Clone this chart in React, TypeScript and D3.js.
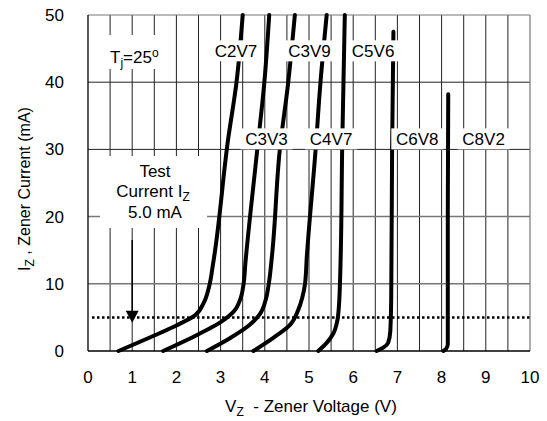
import * as d3 from "d3";

const vTicks = [0, 1, 2, 3, 4, 5, 6, 7, 8, 9, 10];
const iTicks = [0, 10, 20, 30, 40, 50];
const vGrid = [0.5, 1, 1.5, 2, 2.5, 3, 3.5, 4, 4.5, 5, 5.5, 6, 6.5, 7, 7.5, 8, 8.5, 9, 9.5];
const testCurrent = 5;

// [Vz, Iz] pairs
const c2v7: [number, number][] = [[0.69, 0], [1.5, 2.3], [2.0, 3.8], [2.42, 5.3], [2.62, 7.2], [2.74, 9.6], [2.83, 13], [3.17, 31.5], [3.36, 40], [3.5, 50]];
const c3v3: [number, number][] = [[1.7, 0], [2.5, 2.5], [3.0, 4.3], [3.3, 5.9], [3.45, 7.8], [3.52, 10], [3.56, 13], [3.83, 30], [3.99, 40], [4.1, 50]];
const c3v9: [number, number][] = [[2.69, 0], [3.21, 1.9], [3.66, 3.9], [3.9, 5.6], [4.02, 7.6], [4.09, 10], [4.16, 14], [4.34, 30], [4.53, 40], [4.68, 50]];
const c4v7: [number, number][] = [[3.74, 0], [4.2, 2.0], [4.57, 3.9], [4.75, 6], [4.85, 8], [4.91, 10], [4.95, 14], [5.15, 30], [5.26, 40], [5.4, 50]];
const c5v6: [number, number][] = [[5.21, 0], [5.4, 1.2], [5.55, 2.6], [5.64, 4.5], [5.68, 7], [5.7, 10], [5.72, 15], [5.75, 30], [5.81, 50]];
const c6v8: [number, number][] = [[6.53, 0], [6.68, 0.5], [6.79, 1.2], [6.84, 3], [6.86, 8], [6.88, 30], [6.91, 47.5]];
const c8v2: [number, number][] = [[8.04, 0], [8.1, 0.3], [8.14, 1], [8.14, 20], [8.15, 38.2]];

const curves = [c2v7, c3v3, c3v9, c4v7, c5v6, c6v8, c8v2];

// label text with its centre (Vz) and baseline (Iz)
const curveLabels: { text: string; v: number; i: number }[] = [
  { text: "C2V7", v: 3.35, i: 43.7 },
  { text: "C3V9", v: 5.01, i: 43.7 },
  { text: "C5V6", v: 6.45, i: 43.7 },
  { text: "C3V3", v: 4.04, i: 30.6 },
  { text: "C4V7", v: 5.5, i: 30.6 },
  { text: "C6V8", v: 7.45, i: 30.6 },
  { text: "C8V2", v: 8.95, i: 30.6 },
];

const W = 547;
const H = 421;
const margin = { left: 88, right: 17, top: 15, bottom: 70 };
const FONT = "'Liberation Sans', Arial, sans-serif";
const FS = 17;

export default function App() {
  const x = d3.scaleLinear().domain([0, 10]).range([margin.left, W - margin.right]);
  const y = d3.scaleLinear().domain([0, 50]).range([H - margin.bottom, margin.top]);
  const line = d3
    .line<[number, number]>()
    .x((d) => x(d[0]))
    .y((d) => y(d[1]))
    .curve(d3.curveMonotoneY);

  const x0 = x(0);
  const x1 = x(10);
  const y0 = y(0);
  const y1 = y(50);

  const arrowX = x(1);
  const arrowTop = y(16.5);
  const arrowTip = y(4.2);

  return (
    <svg
      width={W}
      height={H}
      style={{ position: "absolute", left: 0, top: 0, background: "#fff" }}
      fontFamily={FONT}
      fontSize={FS}
    >
      {/* grid */}
      {vGrid.map((v) => (
        <line key={"gv" + v} x1={x(v)} x2={x(v)} y1={y0} y2={y1} stroke="#222" strokeWidth={1} />
      ))}
      {iTicks.slice(1, 5).map((i) => (
        <line
          key={"gh" + i}
          x1={x0}
          x2={x1}
          y1={y(i)}
          y2={y(i)}
          stroke={i < 30 ? "#777" : "#222"}
          strokeWidth={i < 30 ? 1.5 : 1}
        />
      ))}
      <line x1={x0} x2={x1} y1={y1} y2={y1} stroke="#777" strokeWidth={1.2} />
      <line x1={x1} x2={x1} y1={y0} y2={y1} stroke="#777" strokeWidth={1.2} />
      <line x1={x0} x2={x0} y1={y0} y2={y1} stroke="#000" strokeWidth={1.3} />
      <line x1={x0} x2={x1} y1={y0} y2={y0} stroke="#000" strokeWidth={1.5} />

      {/* white boxes over the grid */}
      <rect x={104} y={35} width={70} height={34} fill="#fff" />
      <rect x={100} y={156} width={107} height={72} fill="#fff" />

      {/* test current */}
      <line
        x1={x0 + 4}
        x2={x1 + 2}
        y1={y(testCurrent)}
        y2={y(testCurrent)}
        stroke="#000"
        strokeWidth={2.5}
        strokeDasharray="2.5,2.5"
      />
      <line x1={arrowX} x2={arrowX} y1={arrowTop} y2={arrowTip - 8} stroke="#000" strokeWidth={1.5} />
      <path
        d={`M${arrowX - 6.5},${arrowTip - 12} L${arrowX + 6.5},${arrowTip - 12} L${arrowX},${arrowTip} Z`}
        fill="#000"
      />

      {/* curves */}
      {curves.map((c, k) => (
        <path key={"c" + k} d={line(c) ?? ""} fill="none" stroke="#000" strokeWidth={4} strokeLinecap="round" />
      ))}

      {/* curve labels */}
      {curveLabels.map((l) => (
        <g key={l.text}>
          <rect x={x(l.v) - 26} y={y(l.i) - 17} width={52} height={21} fill="#fff" />
          <text x={x(l.v)} y={y(l.i)} textAnchor="middle">
            {l.text}
          </text>
        </g>
      ))}

      {/* annotations */}
      <text x={110} y={63}>
        T<tspan fontSize={12} dy={4}>j</tspan>
        <tspan dy={-4}>=25</tspan>
        <tspan fontSize={12} dy={-6}>o</tspan>
      </text>
      <text x={155} y={177} textAnchor="middle">Test</text>
      <text x={153} y={197} textAnchor="middle">
        Current I<tspan fontSize={12} dy={4}>Z</tspan>
      </text>
      <text x={155} y={218} textAnchor="middle">5.0 mA</text>

      {/* axes labels */}
      {vTicks.map((v) => (
        <text key={"tv" + v} x={x(v)} y={383} textAnchor="middle">
          {v}
        </text>
      ))}
      {iTicks.map((i) => (
        <text key={"ti" + i} x={64} y={y(i) + 6} textAnchor="end">
          {i}
        </text>
      ))}
      <text x={311} y={412} textAnchor="middle" style={{ whiteSpace: "pre" }}>
        V<tspan fontSize={12} dy={4}>Z</tspan>
        <tspan dy={-4}>{"  - Zener Voltage (V)"}</tspan>
      </text>
      <text
        transform={`translate(30,189) rotate(-90)`}
        textAnchor="middle"
        fontSize={16}
      >
        I<tspan fontSize={12} dy={4}>Z</tspan>
        <tspan dy={-4}>{" , Zener Current (mA)"}</tspan>
      </text>
    </svg>
  );
}
